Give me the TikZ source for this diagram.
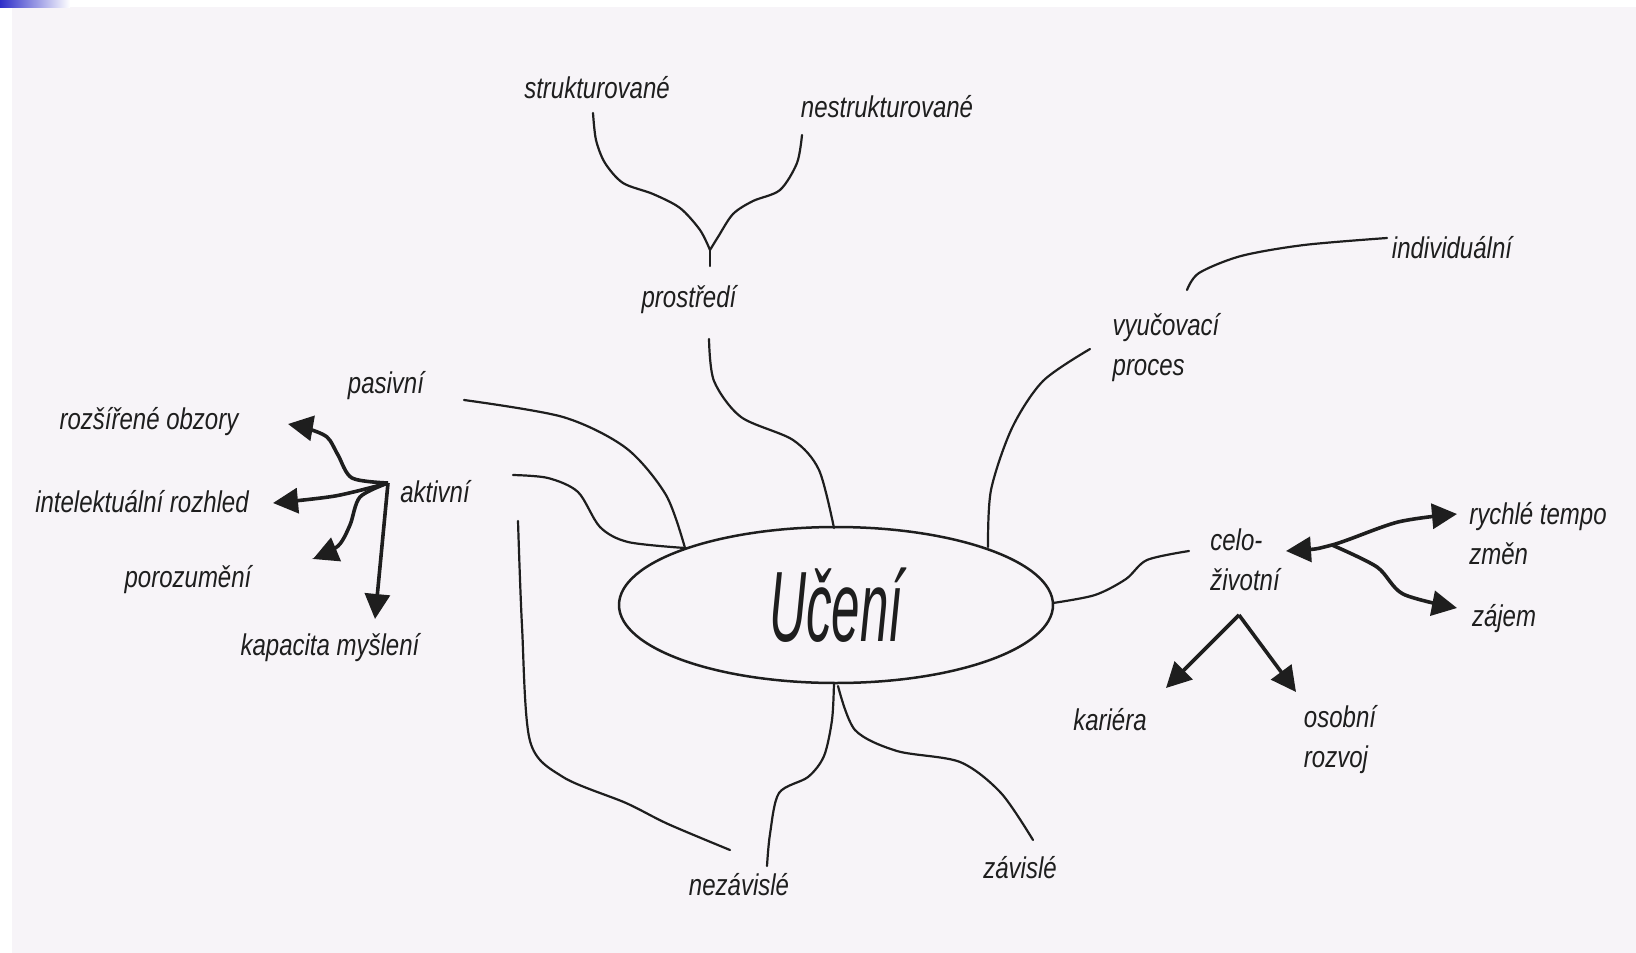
\documentclass[tikz,border=0pt]{standalone}
\usepackage{fontspec}
\usetikzlibrary{shapes.geometric,arrows.meta}
\newfontfamily\handfont{Liberation Sans}[FakeStretch=0.8]
\definecolor{pagecol}{HTML}{F7F4F8}
\definecolor{ink}{HTML}{1E1E1E}
\definecolor{barblue}{HTML}{2E2EC8}
\tikzset{
  lbl/.style={inner sep=0pt, text=ink, font=\handfont\itshape\fontsize{30}{40}\selectfont},
  con/.style={draw=ink, line width=2.2pt, line cap=round},
  arr/.style={draw=ink, line width=3.6pt, -{Triangle[length=25pt,width=25pt]}},
  biarr/.style={draw=ink, line width=3.6pt, {Triangle[length=25pt,width=25pt]}-{Triangle[length=25pt,width=25pt]}},
}
\begin{document}
\begin{tikzpicture}[x=1pt,y=-1pt]
\useasboundingbox (0,0) rectangle (1636,953);
\fill[white] (0,0) rectangle (1636,953);
\fill[pagecol] (12,7) rectangle (1636,953);
\shade[left color=barblue, right color=white] (0,0) rectangle (70,7);

% labels
\node[lbl] (struk) at (597,88) {strukturované};
\node[lbl] (nestruk) at (887,107) {nestrukturované};
\node[lbl] (prost) at (689,300) {prostředí};
\node[lbl] (indiv) at (1452,248) {individuální};
\node[lbl, align=left] (vyuc) at (1166,348) {vyučovací\\proces};
\node[lbl] (pas) at (386,386) {pasivní};
\node[lbl] (akt) at (435,492) {aktivní};
\node[lbl] (rozs) at (149,422) {rozšířené obzory};
\node[lbl] (intel) at (142,502) {intelektuální rozhled};
\node[lbl] (poroz) at (188,580) {porozumění};
\node[lbl] (kapac) at (330,648) {kapacita myšlení};
\node[lbl, align=left] (celo) at (1245,560) {celo-\\životní};
\node[lbl, align=left] (rych) at (1538,534) {rychlé tempo\\změn};
\node[lbl] (zajem) at (1504,619) {zájem};
\node[lbl] (kar) at (1110,720) {kariéra};
\node[lbl, align=left] (osob) at (1340,740) {osobní\\rozvoj};
\node[lbl] (nezav) at (739,885) {nezávislé};
\node[lbl] (zav) at (1020,868) {závislé};

\node[ellipse, draw=ink, line width=2.5pt, minimum width=434pt, minimum height=156pt, inner sep=0pt] (uc) at (836,605) {};
\node[text=ink, font=\handfont\itshape\fontsize{100}{100}\selectfont] (uctext) at (uc.center) {\scalebox{0.64}[1]{Učení}};

% coordinates (free ends and junctions)
\coordinate (s1) at (593,113);
\coordinate (s2) at (802,135);
\coordinate (pj) at (710,250);
\coordinate (pe) at (709,339);
\coordinate (ut) at (834,528);
\coordinate (ve) at (1090,349);
\coordinate (ue1) at (988,547);
\coordinate (vi) at (1187,290);
\coordinate (ie) at (1387,238);
\coordinate (ur) at (1053,603);
\coordinate (ce) at (1189,551);
\coordinate (pe2) at (464,400);
\coordinate (ul) at (685,548);
\coordinate (ae) at (513,475);
\coordinate (ub1) at (834,683);
\coordinate (ne) at (767,866);
\coordinate (ub2) at (838,686);
\coordinate (ze) at (1033,840);
\coordinate (al) at (518,521);
\coordinate (nl) at (730,850);
\coordinate (as) at (388,483);
\coordinate (cj) at (1332,545);
\coordinate (cd) at (1239,615);

% prostredi tree
\draw[con] plot[smooth] coordinates {(s1) (596,140) (605,163) (623,183) (653,194) (680,208) (700,230) (pj)};
\draw[con] plot[smooth] coordinates {(s2) (797,163) (780,190) (753,201) (733,214) (718,237) (pj)};
\draw[con] (pj) -- (710,266);
\draw[con] plot[smooth] coordinates {(pe) (714,381) (741,417) (793,440) (819,470) (ut)};

% vyucovaci proces
\draw[con] plot[smooth] coordinates {(ue1) (991,490) (1012,428) (1043,381) (ve)};
\draw[con] plot[smooth] coordinates {(vi) (1199,273) (1241,256) (1304,245) (ie)};

% celozivotni
\draw[con] plot[smooth] coordinates {(ur) (1095,595) (1126,579) (1147,560) (ce)};
\draw[biarr] plot[smooth] coordinates {(1286,551) (cj) (1398,522) (1457,514)};
\draw[arr] plot[smooth] coordinates {(cj) (1377,567) (1403,594) (1457,608)};
\draw[arr] (cd) -- (1166,688);
\draw[arr] (cd) -- (1296,692);

% pasivni / aktivni
\draw[con] plot[smooth] coordinates {(pe2) (563,417) (626,448) (666,495) (ul)};
\draw[con] plot[smooth] coordinates {(ae) (548,478) (578,492) (600,527) (628,542) (ul)};
\draw[con] plot[smooth] coordinates {(al) (522,626) (530,741) (563,777) (626,803) (668,824) (nl)};

% arrows from aktivni
\draw[arr] plot[smooth] coordinates {(as) (352,478) (338,455) (327,437) (306,428) (288,424)};
\draw[arr] plot[smooth] coordinates {(as) (335,496) (273,503)};
\draw[arr] plot[smooth] coordinates {(as) (360,497) (350,525) (338,546) (313,559)};
\draw[arr] (as) -- (375,619);

% bottom
\draw[con] plot[smooth] coordinates {(ub1) (832,720) (824,756) (808,777) (779,793) (770,834) (ne)};
\draw[con] plot[smooth] coordinates {(ub2) (855,730) (897,751) (960,762) (1001,793) (ze)};
\end{tikzpicture}
\end{document}
